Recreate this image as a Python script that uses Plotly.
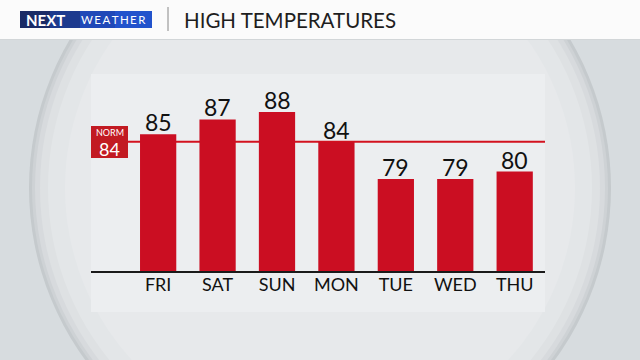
import plotly.graph_objects as go

days = ["FRI", "SAT", "SUN", "MON", "TUE", "WED", "THU"]
highs = [85, 87, 88, 84, 79, 79, 80]
normal_high = 84
title_text = "HIGH TEMPERATURES"

W, H = 640, 360
FONT = "Lato"

def px(x):
    return x / W

def py(y):
    return 1 - y / H

fig = go.Figure()
fig.add_trace(go.Bar(
    x=days, y=highs,
    marker=dict(color="#cb0e22", line=dict(width=0)),
    width=0.61,
    cliponaxis=False,
    hoverinfo="skip",
))

shapes = []
# background lens circles (concentric to fake the gradient rim)
cx, cy = 320, 188
for r, col in [(291, "#c5cacd"), (288, "#ced2d5"), (285, "#d7dadd"), (280, "#dee1e3"), (272, "#e3e6e8"), (255, "#e7e9eb")]:
    shapes.append(dict(type="circle", xref="paper", yref="paper",
                       x0=px(cx - r), x1=px(cx + r), y0=py(cy + r), y1=py(cy - r),
                       fillcolor=col, line=dict(width=0), layer="below"))
# header band
shapes.append(dict(type="rect", xref="paper", yref="paper", x0=0, x1=1, y0=py(39), y1=1,
                   fillcolor="#fbfbfb", line=dict(width=0), layer="below"))
shapes.append(dict(type="line", xref="paper", yref="paper", x0=0, x1=1, y0=py(39.5), y1=py(39.5),
                   line=dict(color="#d2d6d8", width=1), layer="below"))
# logo
for x0, x1, col in [(20, 50, "#1a2b66"), (50, 80, "#1d3a8e"), (80, 115, "#2048b8"), (115, 152, "#2253cc")]:
    shapes.append(dict(type="rect", xref="paper", yref="paper", x0=px(x0), x1=px(x1), y0=py(28), y1=py(11),
                       fillcolor=col, line=dict(width=0), layer="below"))
# separator
shapes.append(dict(type="line", xref="paper", yref="paper", x0=px(168), x1=px(168), y0=py(31), y1=py(7),
                   line=dict(color="#888888", width=1), layer="below"))
# chart panel
shapes.append(dict(type="rect", xref="paper", yref="paper", x0=px(91), x1=px(545), y0=py(312), y1=py(74),
                   fillcolor="#eceef0", line=dict(width=0), layer="below"))
# normal line
shapes.append(dict(type="line", xref="paper", yref="y", x0=px(128), x1=px(545), y0=normal_high, y1=normal_high,
                   line=dict(color="#d3121f", width=2), layer="below"))
# normal label box
shapes.append(dict(type="rect", xref="paper", yref="paper", x0=px(91), x1=px(128), y0=py(158), y1=py(126),
                   fillcolor="#c21a22", line=dict(width=0), layer="below"))

annotations = [
    dict(text="<b>NEXT</b>", x=px(24), y=py(19.5), xref="paper", yref="paper", xanchor="left", yanchor="middle",
         showarrow=False, font=dict(family=FONT, size=15, color="white")),
    dict(text="W\u2009E\u2009A\u2009T\u2009H\u2009E\u2009R", x=px(79), y=py(19.5), xref="paper", yref="paper",
         xanchor="left", yanchor="middle", showarrow=False, font=dict(family=FONT, size=11.5, color="white")),
    dict(text=title_text, x=px(182), y=py(19.5), xref="paper", yref="paper", xanchor="left", yanchor="middle",
         showarrow=False, font=dict(family=FONT, size=20.5, color="#1e1e1e")),
    dict(text="NORM", x=px(109.5), y=py(132.5), xref="paper", yref="paper", xanchor="center", yanchor="middle",
         showarrow=False, font=dict(family=FONT, size=9, color="white")),
    dict(text=str(normal_high), x=px(109.5), y=py(149), xref="paper", yref="paper", xanchor="center", yanchor="middle",
         showarrow=False, font=dict(family=FONT, size=18, color="white")),
]
# value labels above bars
for d, v in zip(days, highs):
    annotations.append(dict(text=str(v), x=d, y=v, xref="x", yref="y", xanchor="center", yanchor="bottom",
                            yshift=-4, showarrow=False,
                            font=dict(family=FONT, size=23, color="#111111")))

fig.update_layout(
    width=W, height=H,
    margin=dict(l=0, r=0, t=0, b=0),
    paper_bgcolor="#d7dcdf",
    plot_bgcolor="rgba(0,0,0,0)",
    showlegend=False,
    shapes=shapes,
    annotations=annotations,
    xaxis=dict(domain=[px(91), px(545)], range=[-1.13, 6.51], showgrid=False, zeroline=False,
               showline=True, linecolor="#1a1a1a", linewidth=2,
               ticks="", ticklabelstandoff=-4,
               tickfont=dict(family=FONT, size=18, color="#111111"), fixedrange=True),
    yaxis=dict(domain=[py(271), py(74)], range=[66.64, 93.1], showgrid=False, zeroline=False,
               showticklabels=False, showline=False, fixedrange=True),
)

fig.write_html("out.html", config={"displayModeBar": False})
